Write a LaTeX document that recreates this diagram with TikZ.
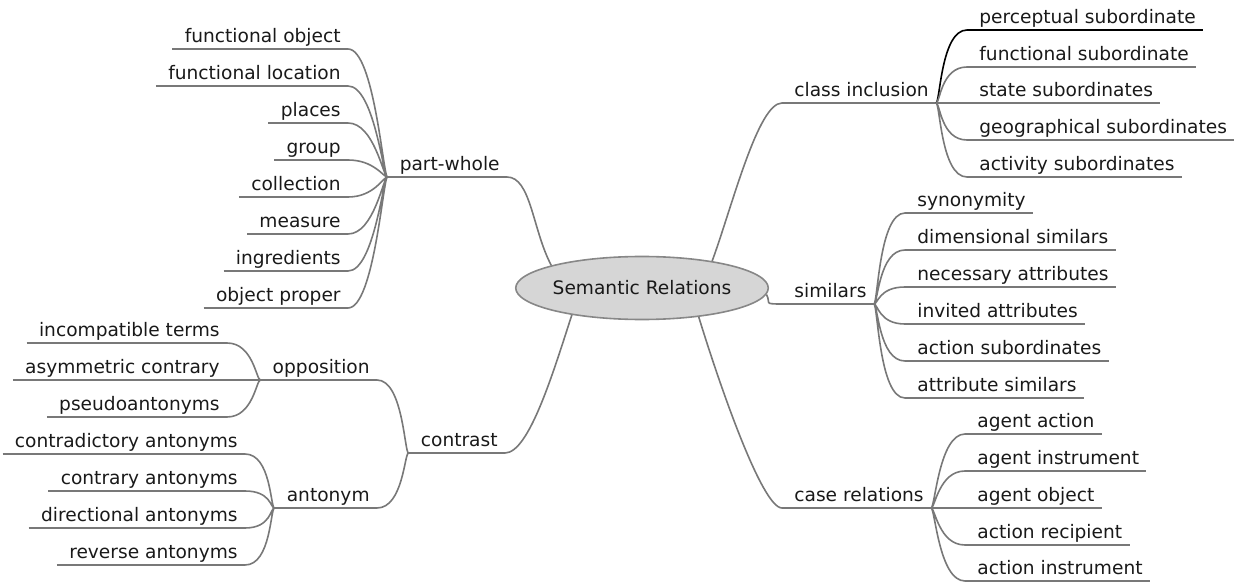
\documentclass[tikz,border=0pt]{standalone}
\usepackage{fontspec}
\setmainfont{DejaVu Sans}
\usetikzlibrary{shapes.geometric}
\definecolor{LineGray}{RGB}{120,120,120}
\definecolor{BubbleGray}{RGB}{214,214,214}
\definecolor{RimGray}{RGB}{135,135,135}
\definecolor{InkBlack}{RGB}{25,25,25}

\begin{document}
\begin{tikzpicture}[x=0.5pt,y=-0.5pt,
    font=\fontsize{9.3pt}{11pt}\selectfont,
    link/.style={draw=LineGray,line width=0.8pt},
    topic/.style={inner xsep=3.5pt,inner ysep=3pt,text depth=0pt,text=InkBlack,
      execute at begin node={\hspace*{2.5pt}},
      append after command={(\tikzlastnode.south west) edge[link] (\tikzlastnode.south east)}},
    lleaf/.style={topic,anchor=south east},
    rleaf/.style={topic,anchor=south west},
    fanl/.style={link,out=180,in=0,out distance=2pt,in distance=13pt},
    fanr/.style={link,out=0,in=180,out distance=2pt,in distance=13pt}]
  \useasboundingbox (0,0) rectangle (1240,582);

  % centre
  \node[ellipse,draw=RimGray,fill=BubbleGray,line width=0.8pt,minimum width=106.5pt,
    minimum height=31.5pt,inner sep=0pt,text=InkBlack] (sr) at (642,288) {Semantic Relations};

  % right side
  \node[rleaf] (ci) at (782,103) {class inclusion};
  \node[rleaf] (percep) at (967,30) {perceptual subordinate};
  \node[rleaf] (funcsub) at (967,67) {functional subordinate};
  \node[rleaf] (statesub) at (967,103) {state subordinates};
  \node[rleaf] (geosub) at (967,140) {geographical subordinates};
  \node[rleaf] (actsub) at (967,177) {activity subordinates};

  \node[rleaf] (sim) at (782,304) {similars};
  \node[rleaf] (syn) at (905,213) {synonymity};
  \node[rleaf] (dimsim) at (905,250) {dimensional similars};
  \node[rleaf] (necattr) at (905,287) {necessary attributes};
  \node[rleaf] (invattr) at (905,324) {invited attributes};
  \node[rleaf] (actsubs) at (905,361) {action subordinates};
  \node[rleaf] (attrsim) at (905,398) {attribute similars};

  \node[rleaf] (cr) at (782,508) {case relations};
  \node[rleaf] (agact) at (965,434) {agent action};
  \node[rleaf] (aginst) at (965,471) {agent instrument};
  \node[rleaf] (agobj) at (965,508) {agent object};
  \node[rleaf] (actrec) at (965,545) {action recipient};
  \node[rleaf] (actinst) at (965,581) {action instrument};

  % left side
  \node[lleaf] (pw) at (507,177) {part-whole};
  \node[lleaf] (fobj) at (348,49) {functional object};
  \node[lleaf] (floc) at (348,86) {functional location};
  \node[lleaf] (places) at (348,123) {places};
  \node[lleaf] (group) at (348,160) {group};
  \node[lleaf] (coll) at (348,197) {collection};
  \node[lleaf] (meas) at (348,234) {measure};
  \node[lleaf] (ingr) at (348,271) {ingredients};
  \node[lleaf] (objp) at (348,308) {object proper};

  \node[lleaf] (ct) at (505,453) {contrast};
  \node[lleaf] (opp) at (377,380) {opposition};
  \node[lleaf] (incomp) at (227,343) {incompatible terms};
  \node[lleaf] (asym) at (227,380) {asymmetric contrary};
  \node[lleaf] (pseudo) at (227,417) {pseudoantonyms};
  \node[lleaf] (ant) at (377,508) {antonym};
  \node[lleaf] (contrad) at (245,454) {contradictory antonyms};
  \node[lleaf] (contr) at (245,491) {contrary antonyms};
  \node[lleaf] (direc) at (245,528) {directional antonyms};
  \node[lleaf] (rev) at (245,565) {reverse antonyms};

  % branches from the centre
  \draw[link] (sr.21) to[out=70,in=180,out distance=30pt,in distance=12pt] (ci.south west);
  \draw[link] (sr.-3) to[out=-60,in=180,out distance=5pt,in distance=10pt] (sim.south west);
  \draw[link] (sr.-27) to[out=-73,in=180,out distance=35pt,in distance=10pt] (cr.south west);
  \draw[link] (sr.166) to[out=118,in=0,out distance=20pt,in distance=12pt] (pw.south east);
  \draw[link] (sr.201) to[out=252,in=0,out distance=30pt,in distance=12pt] (ct.south east);

  % fans
  \draw[fanr,draw=black] (ci.south east) to (percep.south west);
  \draw[link,draw=black] (percep.south west) -- (percep.south east);
  \draw[fanr] (ci.south east) to (funcsub.south west) (ci.south east) to (statesub.south west)
    (ci.south east) to (geosub.south west) (ci.south east) to (actsub.south west);
  \draw[fanr] (sim.south east) to (syn.south west) (sim.south east) to (dimsim.south west)
    (sim.south east) to (necattr.south west) (sim.south east) to (invattr.south west)
    (sim.south east) to (actsubs.south west) (sim.south east) to (attrsim.south west);
  \draw[fanr] (cr.south east) to (agact.south west) (cr.south east) to (aginst.south west)
    (cr.south east) to (agobj.south west) (cr.south east) to (actrec.south west)
    (cr.south east) to (actinst.south west);
  \draw[fanl] (pw.south west) to (fobj.south east) (pw.south west) to (floc.south east)
    (pw.south west) to (places.south east) (pw.south west) to (group.south east)
    (pw.south west) to (coll.south east) (pw.south west) to (meas.south east)
    (pw.south west) to (ingr.south east) (pw.south west) to (objp.south east);
  \draw[fanl] (ct.south west) to (opp.south east) (ct.south west) to (ant.south east);
  \draw[fanl] (opp.south west) to (incomp.south east) (opp.south west) to (asym.south east)
    (opp.south west) to (pseudo.south east);
  \draw[fanl] (ant.south west) to (contrad.south east) (ant.south west) to (contr.south east)
    (ant.south west) to (direc.south east) (ant.south west) to (rev.south east);
\end{tikzpicture}
\end{document}
